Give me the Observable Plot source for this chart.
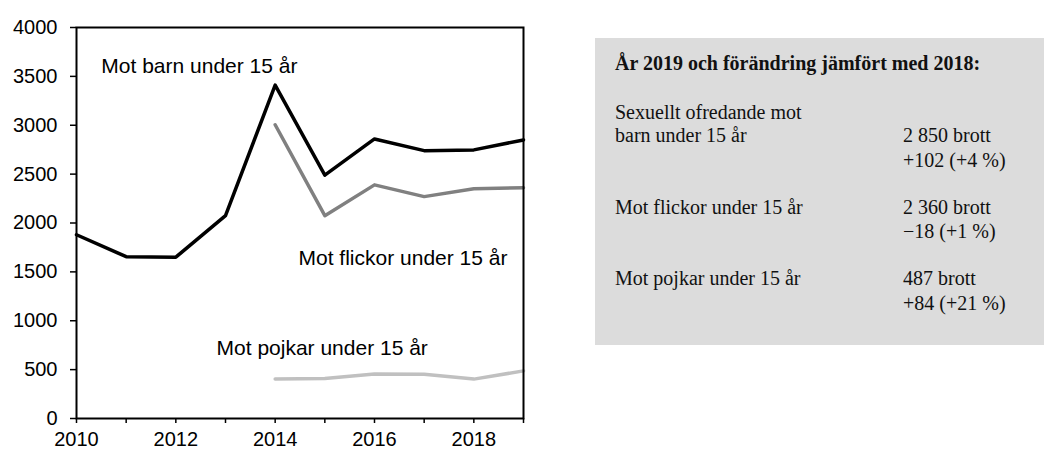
<!DOCTYPE html>
<html>
<head>
<meta charset="utf-8">
<script src="https://cdn.jsdelivr.net/npm/d3@7"></script>
<script src="https://cdn.jsdelivr.net/npm/@observablehq/plot@0.6"></script>
<style>
  html, body { margin: 0; padding: 0; background: #fff; }
  #wrap { position: relative; width: 1044px; height: 453px; overflow: hidden; }
  #chart { position: absolute; left: 0; top: 0; }
  #box { position: absolute; left: 595px; top: 38px; width: 449px; height: 307px; background: #dcdcdc;
         font-family: "Liberation Serif", "Times New Roman", serif; font-size: 20px; color: #111; }
  #box div { position: absolute; white-space: nowrap; line-height: 24px; }
  #box .title { font-weight: bold; }
</style>
</head>
<body>
<div id="wrap">
  <div id="chart"></div>
  <div id="box"></div>
</div>
<script>
// ---- data ----
const years = [2010, 2011, 2012, 2013, 2014, 2015, 2016, 2017, 2018, 2019];
const barn = [1880, 1655, 1650, 2075, 3410, 2490, 2860, 2740, 2748, 2850];
const subYears = [2014, 2015, 2016, 2017, 2018, 2019];
const flickor = [3005, 2075, 2390, 2270, 2350, 2360];
const pojkar = [405, 410, 455, 452, 403, 487];
const seriesNames = ["Mot barn under 15 år", "Mot flickor under 15 år", "Mot pojkar under 15 år"];
const yTicks = [0, 500, 1000, 1500, 2000, 2500, 3000, 3500, 4000];
const xTicks = years;

const boxTitle = "År 2019 och förändring jämfört med 2018:";
const boxLabels = [["Sexuellt ofredande mot", "barn under 15 år"], ["Mot flickor under 15 år"], ["Mot pojkar under 15 år"]];
const boxCounts = ["2 850 brott", "2 360 brott", "487 brott"];
const boxChanges = ["+102 (+4 %)", "\u221218 (+1 %)", "+84 (+21 %)"];

// ---- tables ----
const barnData = years.map((y, i) => ({year: y, value: barn[i]}));
const flickorData = subYears.map((y, i) => ({year: y, value: flickor[i]}));
const pojkarData = subYears.map((y, i) => ({year: y, value: pojkar[i]}));

const chart = Plot.plot({
  width: 1044,
  height: 453,
  marginLeft: 76,
  marginRight: 521,
  marginTop: 27,
  marginBottom: 35,
  style: {fontFamily: "'Liberation Sans', Arial, sans-serif", fontSize: "20px", color: "#000", background: "transparent"},
  x: {domain: [2010, 2019], label: null},
  y: {domain: [0, 4000], label: null},
  marks: [
    Plot.line(pojkarData, {x: "year", y: "value", stroke: "#c0c0c0", strokeWidth: 3.5}),
    Plot.line(flickorData, {x: "year", y: "value", stroke: "#808080", strokeWidth: 3.5}),
    Plot.line(barnData, {x: "year", y: "value", stroke: "#000", strokeWidth: 3.5}),
    Plot.frame({stroke: "#000", strokeWidth: 2}),
    Plot.axisY({ticks: yTicks, label: null, tickSize: 6, tickPadding: 13, tickFormat: d => String(d), strokeWidth: 1.5}),
    Plot.axisX({ticks: xTicks, label: null, tickSize: 5, tickPadding: 8, tickFormat: d => (d % 2 === 0 ? String(d) : ""), strokeWidth: 1.5}),
    Plot.text([seriesNames[0]], {x: 2010.5, y: 3608, text: d => d, textAnchor: "start", fill: "#000", fontSize: 21}),
    Plot.text([seriesNames[1]], {x: 2014.47, y: 1644, text: d => d, textAnchor: "start", fill: "#000", fontSize: 21}),
    Plot.text([seriesNames[2]], {x: 2012.82, y: 722, text: d => d, textAnchor: "start", fill: "#000", fontSize: 21})
  ]
});
document.getElementById("chart").appendChild(chart);

// ---- info box ----
const box = document.getElementById("box");
const boxTop = 38;
function addLine(text, left, centerY, cls) {
  const d = document.createElement("div");
  d.textContent = text;
  d.style.left = (left - 595) + "px";
  d.style.top = (centerY - boxTop - 12) + "px";
  if (cls) d.className = cls;
  box.appendChild(d);
}
addLine(boxTitle, 615, 63, "title");
const groupStarts = [111.7, 206.7, 278];
const countY = [135, 206.7, 278];
boxLabels.forEach((lines, gi) => {
  lines.forEach((t, li) => addLine(t, 615, groupStarts[gi] + li * 23.5));
  addLine(boxCounts[gi], 903, countY[gi]);
  addLine(boxChanges[gi], 903, countY[gi] + 24.5);
});
</script>
</body>
</html>
